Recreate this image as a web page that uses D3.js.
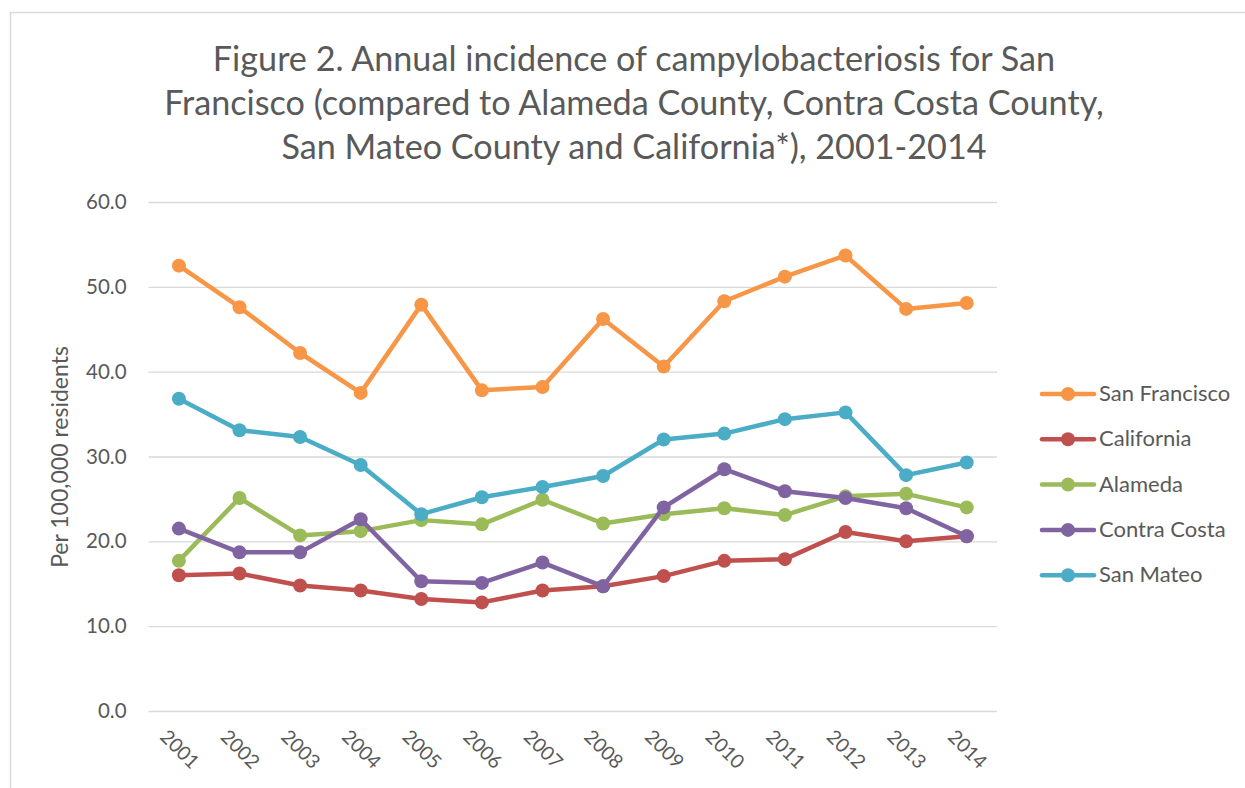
<!DOCTYPE html>
<html><head><meta charset="utf-8">
<script src="https://cdn.jsdelivr.net/npm/d3@7"></script>
<style>
html,body{margin:0;padding:0;background:#fff;}
svg text{font-family:Lato,"Open Sans",sans-serif;fill:#595959;}
</style></head>
<body><svg id="chart" width="1245" height="788"></svg>
<script>
const years = ["2001","2002","2003","2004","2005","2006","2007","2008","2009","2010","2011","2012","2013","2014"];
const sanFrancisco = [52.5,47.6,42.2,37.5,47.9,37.8,38.2,46.2,40.6,48.3,51.2,53.7,47.4,48.1];
const california   = [16.0,16.2,14.8,14.2,13.2,12.8,14.2,14.7,15.9,17.7,17.9,21.1,20.0,20.6];
const alameda      = [17.7,25.1,20.7,21.2,22.5,22.0,24.9,22.1,23.2,23.9,23.1,25.3,25.6,24.0];
const contraCosta  = [21.5,18.7,18.7,22.6,15.3,15.1,17.5,14.7,24.0,28.5,25.9,25.1,23.9,20.6];
const sanMateo     = [36.8,33.1,32.3,29.0,23.2,25.2,26.4,27.7,32.0,32.7,34.4,35.2,27.8,29.3];
const seriesNames  = ["San Francisco","California","Alameda","Contra Costa","San Mateo"];
const seriesColors = ["#F79646","#C0504D","#9BBB59","#8064A2","#4BACC6"];
const yTicks = [0,10,20,30,40,50,60];
const titleLines = ["Figure 2. Annual incidence of campylobacteriosis for San",
  "Francisco (compared to Alameda County, Contra Costa County,",
  "San Mateo County and California*), 2001-2014"];
const yTitle = "Per 100,000 residents";

const seriesData = [sanFrancisco, california, alameda, contraCosta, sanMateo];
const svg = d3.select("#chart");

// outer border
svg.append("rect").attr("x",10.5).attr("y",12.5).attr("width",1300).attr("height",900)
  .attr("fill","none").attr("stroke","#d9d9d9").attr("stroke-width",1.5);

const x = d3.scaleBand().domain(years).range([148.6, 997]);
const y = d3.scaleLinear().domain([0,60]).range([711, 202]);

// title
const tg = svg.append("g");
const titleY = [62, 106, 150];
titleLines.forEach((t,i)=>{
  tg.append("text").attr("x",634).attr("y",titleY[i]).attr("text-anchor","middle")
    .attr("dominant-baseline","middle").style("font-size","30px").text(t);
});
const w2 = tg.selectAll("text").nodes()[1].getComputedTextLength();
const fs = 30 * 940 / w2;
tg.selectAll("text").style("font-size", fs + "px");

// gridlines + y tick labels
const yAxis = d3.axisLeft(y).tickValues(yTicks).tickFormat(d3.format(".1f")).tickSize(-(997-148.6)).tickPadding(22);
const ga = svg.append("g").attr("transform","translate(148.6,0)").call(yAxis);
ga.select(".domain").remove();
ga.selectAll(".tick line").attr("stroke","#d9d9d9").attr("stroke-width",1.3);
ga.selectAll(".tick text").style("font-size","20.5px").attr("fill","#595959");

// x axis labels
const xAxis = d3.axisBottom(x).tickSize(0);
const gx = svg.append("g").attr("transform","translate(0,711)").call(xAxis);
gx.select(".domain").remove();
gx.selectAll(".tick text").style("font-size","19.5px").attr("fill","#595959")
  .attr("text-anchor","start").attr("dy",null).attr("y",0)
  .attr("transform","translate(-20,27) rotate(45)");

// y title
svg.append("text").attr("transform","translate(62,457) rotate(-90)")
  .attr("text-anchor","middle").attr("dominant-baseline","middle")
  .style("font-size","23px").text(yTitle);

// lines
const line = d3.line().x((d,i)=>x(years[i])+x.bandwidth()/2).y(d=>y(d));
seriesData.forEach((s,k)=>{
  const g = svg.append("g");
  g.append("path").attr("d",line(s)).attr("fill","none").attr("stroke",seriesColors[k])
    .attr("stroke-width",4.5).attr("stroke-linejoin","round");
  g.selectAll("circle").data(s).join("circle")
    .attr("cx",(d,i)=>x(years[i])+x.bandwidth()/2).attr("cy",d=>y(d)).attr("r",7)
    .attr("fill",seriesColors[k]);
});

// legend
const lg = svg.append("g");
seriesNames.forEach((n,k)=>{
  const yy = 394 + k*45.3;
  lg.append("line").attr("x1",1042).attr("x2",1094).attr("y1",yy).attr("y2",yy)
    .attr("stroke",seriesColors[k]).attr("stroke-width",4.5).attr("stroke-linecap","round");
  lg.append("circle").attr("cx",1068).attr("cy",yy).attr("r",7).attr("fill",seriesColors[k]);
  lg.append("text").attr("x",1099).attr("y",yy+1.5).attr("dominant-baseline","middle")
    .style("font-size","22px").text(n);
});
</script></body></html>
